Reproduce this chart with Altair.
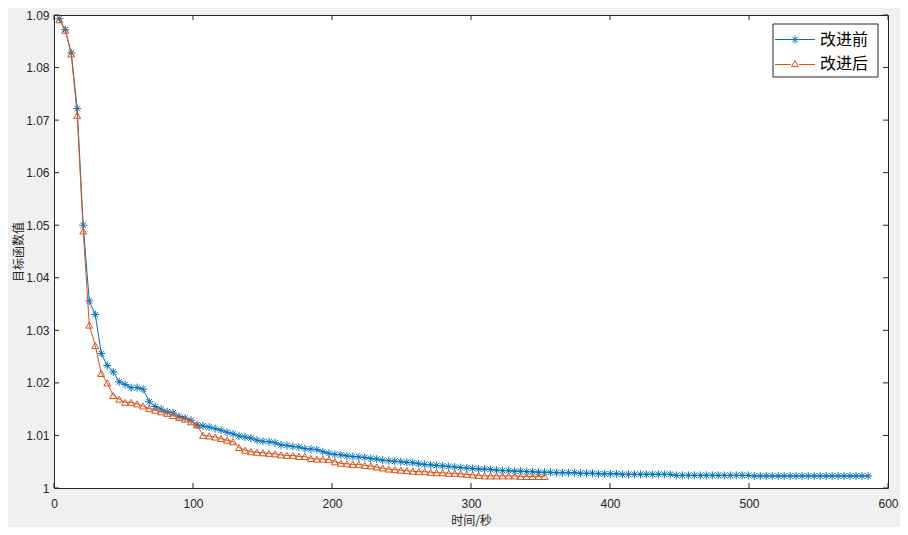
import altair as alt
import pandas as pd

# ---------------- data ----------------
times = [
    3.8, 8.1, 12.4, 16.7, 21.0, 25.4, 29.7, 34.0, 38.3, 42.6,
    46.9, 51.2, 55.5, 59.8, 64.1, 68.5, 72.8, 77.1, 81.4, 85.7,
    90.0, 94.3, 98.6, 102.9, 107.2, 111.6, 115.9, 120.2, 124.5, 128.8,
    133.1, 137.4, 141.7, 146.0, 150.3, 154.7, 159.0, 163.3, 167.6, 171.9,
    176.2, 180.5, 184.8, 189.1, 193.4, 197.8, 202.1, 206.4, 210.7, 215.0,
    219.3, 223.6, 227.9, 232.2, 236.5, 240.9, 245.2, 249.5, 253.8, 258.1,
    262.4, 266.7, 271.0, 275.3, 279.6, 284.0, 288.3, 292.6, 296.9, 301.2,
    305.5, 309.8, 314.1, 318.4, 322.7, 327.1, 331.4, 335.7, 340.0, 344.3,
    348.6, 352.9, 357.2, 361.5, 365.8, 370.2, 374.5, 378.8, 383.1, 387.4,
    391.7, 396.0, 400.3, 404.6, 408.9, 413.3, 417.6, 421.9, 426.2, 430.5,
    434.8, 439.1, 443.4, 447.7, 452.0, 456.4, 460.7, 465.0, 469.3, 473.6,
    477.9, 482.2, 486.5, 490.8, 495.1, 499.5, 503.8, 508.1, 512.4, 516.7,
    521.0, 525.3, 529.6, 533.9, 538.2, 542.6, 546.9, 551.2, 555.5, 559.8,
    564.1, 568.4, 572.7, 577.0, 581.3, 585.7,
]

before_vals = [
    1.0893, 1.0872, 1.0828, 1.0722, 1.0500, 1.0356, 1.0330, 1.0256, 1.0233, 1.0221,
    1.0202, 1.0197, 1.0191, 1.0191, 1.0188, 1.0164, 1.0155, 1.0150, 1.0145, 1.0143,
    1.0136, 1.0133, 1.0129, 1.0120, 1.0118, 1.0116, 1.0113, 1.0110, 1.0106, 1.0103,
    1.0099, 1.0097, 1.0095, 1.0091, 1.0089, 1.0088, 1.0086, 1.0082, 1.0081, 1.0079,
    1.0078, 1.0075, 1.0074, 1.0073, 1.0069, 1.0066, 1.0064, 1.0063, 1.0061, 1.0060,
    1.0059, 1.0058, 1.0056, 1.0055, 1.0053, 1.0052, 1.0051, 1.0050, 1.0049, 1.0048,
    1.0046, 1.0045, 1.0044, 1.0043, 1.0042, 1.0041, 1.0040, 1.0039, 1.0038, 1.0037,
    1.0036, 1.0036, 1.0035, 1.0034, 1.0033, 1.0033, 1.0032, 1.0032, 1.0031, 1.0031,
    1.0030, 1.0030, 1.0030, 1.0029, 1.0029, 1.0029, 1.0029, 1.0028, 1.0028, 1.0028,
    1.0027, 1.0027, 1.0027, 1.0027, 1.0026, 1.0026, 1.0026, 1.0026, 1.0026, 1.0026,
    1.0026, 1.0026, 1.0026, 1.0024, 1.0024, 1.0024, 1.0024, 1.0024, 1.0024, 1.0024,
    1.0024, 1.0024, 1.0024, 1.0024, 1.0024, 1.0024, 1.0023, 1.0023, 1.0023, 1.0023,
    1.0023, 1.0023, 1.0023, 1.0023, 1.0023, 1.0023, 1.0023, 1.0023, 1.0023, 1.0023,
    1.0023, 1.0023, 1.0023, 1.0023, 1.0023, 1.0023,
]

after_vals = [
    1.0891, 1.0871, 1.0826, 1.0709, 1.0489, 1.0310, 1.0271, 1.0218, 1.0200, 1.0176,
    1.0169, 1.0163, 1.0163, 1.0160, 1.0156, 1.0151, 1.0148, 1.0145, 1.0142, 1.0138,
    1.0134, 1.0131, 1.0126, 1.0120, 1.0100, 1.0099, 1.0097, 1.0094, 1.0091, 1.0088,
    1.0077, 1.0072, 1.0069, 1.0068, 1.0067, 1.0066, 1.0065, 1.0063, 1.0062, 1.0062,
    1.0060, 1.0060, 1.0056, 1.0055, 1.0055, 1.0054, 1.0050, 1.0047, 1.0046, 1.0045,
    1.0045, 1.0043, 1.0042, 1.0040, 1.0038, 1.0036, 1.0035, 1.0034, 1.0033, 1.0032,
    1.0031, 1.0031, 1.0030, 1.0029, 1.0029, 1.0028, 1.0028, 1.0027, 1.0026, 1.0025,
    1.0024, 1.0023, 1.0023, 1.0023, 1.0023, 1.0023, 1.0023, 1.0022, 1.0022, 1.0022,
    1.0022, 1.0022,
]

series_names = ["改进前", "改进后"]
x_ticks = [0, 100, 200, 300, 400, 500, 600]
y_ticks = [1.0, 1.01, 1.02, 1.03, 1.04, 1.05, 1.06, 1.07, 1.08, 1.09]

# ---------------- styling ----------------
BLUE = "#0072BD"
RED = "#D95319"
AXC = "#262626"
W, H = 834, 473
ASTERISK = "M-1,0L1,0M0,-1L0,1M-0.7,-0.7L0.7,0.7M-0.7,0.7L0.7,-0.7"
CJK = "Noto Sans CJK SC"
LAT = "Liberation Sans"

df_b = pd.DataFrame({"t": times[: len(before_vals)], "v": before_vals})
df_a = pd.DataFrame({"t": times[: len(after_vals)], "v": after_vals})
df_xt = pd.DataFrame({"t": x_ticks})
df_yt = pd.DataFrame({"v": y_ticks})
one = pd.DataFrame({"k": [0]})

xs = alt.Scale(domain=[0, 600], nice=False, zero=False)
ys = alt.Scale(domain=[1.0, 1.09], nice=False, zero=False)

x_axis = alt.Axis(
    values=x_ticks, title="时间/秒", grid=False, ticks=False, tickSize=0, domain=False,
    labelPadding=10, labelFontSize=12, labelColor=AXC, labelFont=LAT, labelFlush=False,
    titleFont=CJK, titleFontSize=12, titleFontWeight="normal", titleColor=AXC,
    titleY=32, titleBaseline="middle",
)
y_axis = alt.Axis(
    values=y_ticks, format="~g", title="目标函数值", grid=False, ticks=False, tickSize=0,
    domain=False, labelPadding=5, labelFontSize=12, labelColor=AXC, labelFont=LAT,
    labelFlush=False, titleFont=CJK, titleFontSize=12, titleFontWeight="normal",
    titleColor=AXC, titleX=-36, titleBaseline="middle",
)

X = alt.X("t:Q", scale=xs, axis=x_axis)
Y = alt.Y("v:Q", scale=ys, axis=y_axis)

line_b = alt.Chart(df_b).mark_line(color=BLUE, strokeWidth=1).encode(x=X, y=Y)
pts_b = alt.Chart(df_b).mark_point(
    shape=ASTERISK, size=64, filled=False, color=BLUE, strokeWidth=1, opacity=1
).encode(x="t:Q", y="v:Q")
line_a = alt.Chart(df_a).mark_line(color=RED, strokeWidth=1).encode(x="t:Q", y="v:Q")
pts_a = alt.Chart(df_a).mark_point(
    shape="triangle-up", size=48, filled=False, color=RED, strokeWidth=1, opacity=1
).encode(x="t:Q", y="v:Q")

# inward ticks on all four sides (MATLAB box style)
tk = dict(color=AXC, strokeWidth=1)
xt_bottom = alt.Chart(df_xt).mark_rule(**tk).encode(x="t:Q", y=alt.value(H), y2=alt.value(H - 5))
xt_top = alt.Chart(df_xt).mark_rule(**tk).encode(x="t:Q", y=alt.value(0), y2=alt.value(5))
yt_left = alt.Chart(df_yt).mark_rule(**tk).encode(y="v:Q", x=alt.value(0), x2=alt.value(5))
yt_right = alt.Chart(df_yt).mark_rule(**tk).encode(y="v:Q", x=alt.value(W), x2=alt.value(W - 5))

# legend box (top-right, inside plot)
LX0, LX1, LY0, LY1 = 719, 824, 9, 62
R1, R2 = 24.5, 48.5
leg_box = alt.Chart(one).mark_rect(fill="white", stroke=AXC, strokeWidth=1).encode(
    x=alt.value(LX0), x2=alt.value(LX1), y=alt.value(LY0), y2=alt.value(LY1)
)
leg_l1 = alt.Chart(one).mark_rule(color=BLUE, strokeWidth=1).encode(
    x=alt.value(721), x2=alt.value(761), y=alt.value(R1)
)
leg_p1 = alt.Chart(one).mark_point(
    shape=ASTERISK, size=64, filled=False, color=BLUE, strokeWidth=1, opacity=1
).encode(x=alt.value(741), y=alt.value(R1))
leg_l2a = alt.Chart(one).mark_rule(color=RED, strokeWidth=1).encode(
    x=alt.value(721), x2=alt.value(737), y=alt.value(R2 + 1)
)
leg_l2b = alt.Chart(one).mark_rule(color=RED, strokeWidth=1).encode(
    x=alt.value(745), x2=alt.value(761), y=alt.value(R2 + 1)
)
leg_p2 = alt.Chart(one).mark_point(
    shape="triangle-up", size=48, filled=False, color=RED, strokeWidth=1, opacity=1
).encode(x=alt.value(741), y=alt.value(R2))
txt = dict(align="left", baseline="middle", fontSize=16, font=CJK, color="#000000")
leg_t1 = alt.Chart(one).mark_text(**txt).encode(
    x=alt.value(766), y=alt.value(R1), text=alt.value(series_names[0])
)
leg_t2 = alt.Chart(one).mark_text(**txt).encode(
    x=alt.value(766), y=alt.value(R2), text=alt.value(series_names[1])
)

chart = (
    alt.layer(
        line_b, pts_b, line_a, pts_a,
        xt_bottom, xt_top, yt_left, yt_right,
        leg_box, leg_l1, leg_p1, leg_l2a, leg_l2b, leg_p2, leg_t1, leg_t2,
    )
    .properties(
        width=W, height=H,
        autosize=alt.AutoSizeParams(type="none"),
        padding={"left": 46, "top": 7, "right": 12, "bottom": 39},
        background="#F0F0F0",
    )
    .configure_view(fill="white", stroke=AXC, strokeWidth=1)
)

chart.save("out.html", embed_options={"renderer": "svg", "actions": False})
